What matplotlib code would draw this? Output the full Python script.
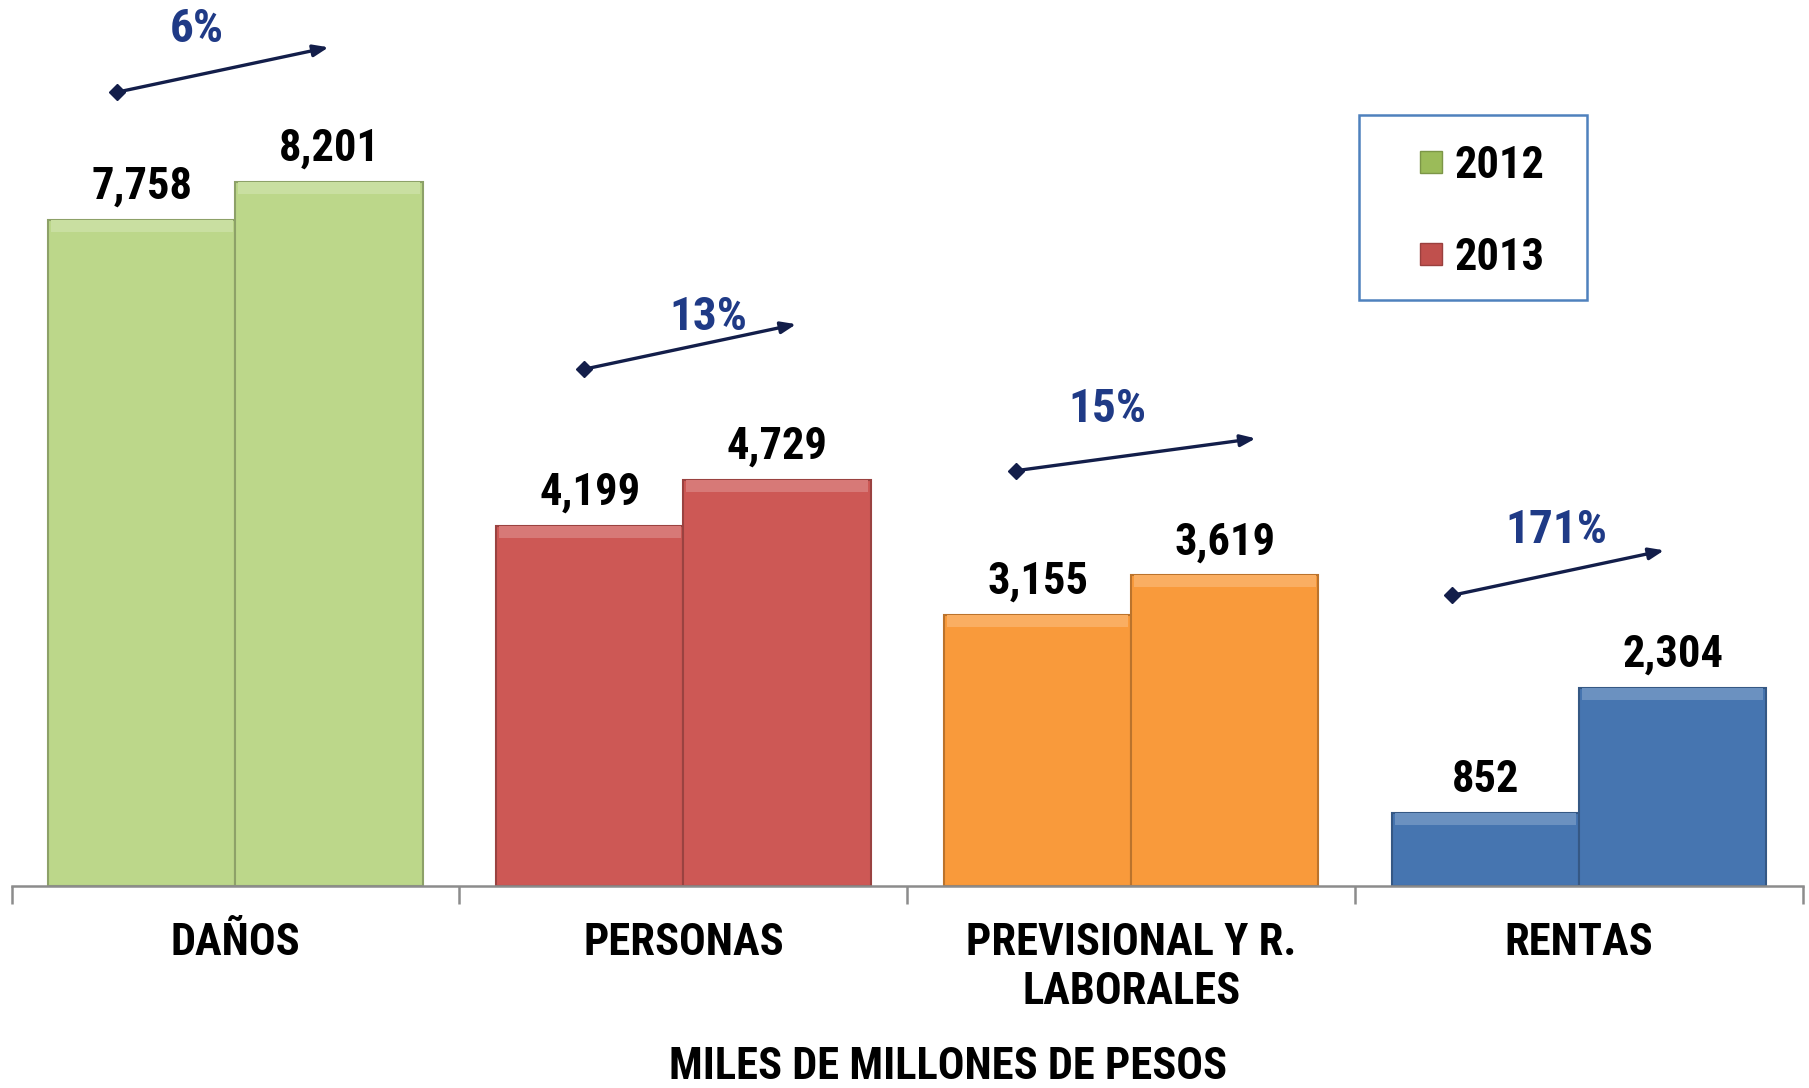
"""
Primas por ramo 2012 vs 2013 - bar chart recreation.
"""

import matplotlib

matplotlib.use("Agg")
import matplotlib.pyplot as plt
from matplotlib.patches import Rectangle
from matplotlib.colors import to_rgb

# ── Data ──────────────────────────────────────────────────────
categories = ["DAÑOS", "PERSONAS", "PREVISIONAL Y R.\nLABORALES", "RENTAS"]
values_2012 = [7758, 4199, 3155, 852]
values_2013 = [8201, 4729, 3619, 2304]
growth_labels = ["6%", "13%", "15%", "171%"]
years = ["2012", "2013"]

# ── Styling ───────────────────────────────────────────────────
BAR_COLORS = ["#BCD78A", "#CD5855", "#F99A3B", "#4675B0"]
LEGEND_COLORS = ["#9BBB59", "#C0504D"]
NAVY = "#131E4A"
PCT_BLUE = "#1F3A86"
FONT = ["Roboto Condensed", "DejaVu Sans"]

plt.rcParams.update({"font.family": FONT, "font.weight": "bold"})

W, H = 1809, 1088
fig = plt.figure(figsize=(W / 100, H / 100), dpi=100)
ax = fig.add_axes([11.5 / W, 202 / H, (1803 - 11.5) / W, 1 - 202 / H])
ax.set_xlim(-0.5, 3.5)
ax.set_ylim(0, 10325)


def shade(color, f):
    r, g, b = to_rgb(color)
    if f >= 0:
        return (r + (1 - r) * f, g + (1 - g) * f, b + (1 - b) * f)
    return (r * (1 + f), g * (1 + f), b * (1 + f))


width = 0.418
bevel = 140
for i, (v12, v13) in enumerate(zip(values_2012, values_2013)):
    col = BAR_COLORS[i]
    for x, v in ((i - width / 2, v12), (i + width / 2, v13)):
        ax.bar(x, v, width=width, color=col, edgecolor=shade(col, -0.25),
               linewidth=1.5, zorder=2)
        # lighter bevel on top
        ax.bar(x, bevel, bottom=v - bevel, width=width * 0.97,
               color=shade(col, 0.2), linewidth=0, zorder=3)
        ax.annotate(f"{v:,}", (x, v), xytext=(0, 24), textcoords="offset points",
                    ha="center", va="center", fontsize=32, fontweight="bold",
                    color="black")

# growth arrows
arrow_start = [(-0.265, 9250), (0.779, 6023), (1.743, 4840), (2.717, 3388)]
arrow_end = [(0.208, 9774), (1.252, 6547), (2.278, 5216), (3.190, 3912)]
pct_pos = [(-0.087, 9990), (1.056, 6630), (1.947, 5555), (2.950, 4143)]
for s, e, p, lab in zip(arrow_start, arrow_end, pct_pos, growth_labels):
    ax.annotate("", xy=e, xytext=s,
                arrowprops=dict(arrowstyle="-|>,head_length=0.9,head_width=0.35",
                                color=NAVY, lw=2.4, shrinkA=0, shrinkB=0))
    ax.plot(*s, marker="D", markersize=8, color=NAVY, zorder=4)
    ax.text(*p, lab, ha="center", va="center", fontsize=34,
            fontweight="bold", color=PCT_BLUE)

# axis
for side in ("top", "right", "left"):
    ax.spines[side].set_visible(False)
ax.spines["bottom"].set_color("#8C8C8C")
ax.spines["bottom"].set_linewidth(1.8)
ax.set_yticks([])
ax.set_xticks(range(len(categories)))
ax.set_xticklabels(categories, fontsize=32, fontweight="bold", linespacing=1.2)
ax.tick_params(axis="x", which="major", length=0, pad=26)
ax.set_xticks([-0.5, 0.5, 1.5, 2.5, 3.5], minor=True)
ax.tick_params(axis="x", which="minor", length=13, width=1.8, color="#8C8C8C",
               direction="out")

fig.text(948 / W, 21 / H, "MILES DE MILLONES DE PESOS", ha="center",
         va="center", fontsize=32, fontweight="bold")

# legend box (drawn by hand to match the framed layout)
fig.add_artist(Rectangle((1359 / W, 1 - 300 / H), 228 / W, 185 / H,
                         transform=fig.transFigure, fill=False,
                         edgecolor="#4F81BD", linewidth=1.8))
for k, (yr, c) in enumerate(zip(years, LEGEND_COLORS)):
    yc = 162 + 92 * k
    fig.add_artist(Rectangle((1420 / W, 1 - (yc + 11) / H), 22 / W, 22 / H,
                             transform=fig.transFigure, facecolor=c,
                             edgecolor=shade(c, -0.2), linewidth=1))
    fig.text(1454 / W, 1 - (yc + 4) / H, yr, ha="left", va="center",
             fontsize=32, fontweight="bold")

fig.savefig("out.png", dpi=100)
